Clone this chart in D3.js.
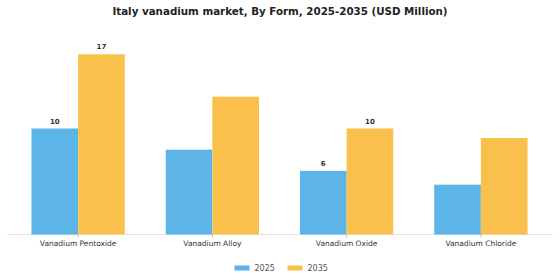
<html>
<head>
<script src="https://d3js.org/d3.v7.min.js"></script>
<style>
  body { margin: 0; background: #fff; }
  text { font-family: "DejaVu Sans", sans-serif; }
</style>
</head>
<body>
<svg width="560" height="280"></svg>
<script>
var categories = ['Vanadium Pentoxide', 'Vanadium Alloy', 'Vanadium Oxide', 'Vanadium Chloride'];
var years = ['2025', '2035'];
var values2025 = [10, 8, 6, 4.7];
var values2035 = [17, 13, 10, 9.1];
// only some bars carry a label in the original
var labels2025 = ['10', '', '6', ''];
var labels2035 = ['17', '', '10', ''];
var colors = ['#5db4e6', '#f9c14b'];

var svg = d3.select('svg');

svg.append('text')
    .attr('x', 280)
    .attr('y', 15)
    .attr('text-anchor', 'middle')
    .style('font-size', '10.3px')
    .style('font-weight', 'bold')
    .style('fill', '#222')
    .text('Italy vanadium market, By Form, 2025-2035 (USD Million)');

var x = d3.scaleBand()
    .domain(categories)
    .range([11, 548])
    .paddingInner(0.305)
    .paddingOuter(0.1525);
var xInner = d3.scaleBand()
    .domain(years)
    .range([0, x.bandwidth()]);
var y = d3.scaleLinear()
    .domain([0, 17])
    .range([234.5, 54.3]);

var rows = categories.map((c, i) => ({
    cat: c,
    vals: [values2025[i], values2035[i]],
    labs: [labels2025[i], labels2035[i]]
}));

// axis baseline
svg.append('line')
    .attr('x1', 7).attr('x2', 553)
    .attr('y1', y(0)).attr('y2', y(0))
    .style('stroke', '#e2e2e2')
    .style('stroke-width', 1);

var groups = svg.selectAll('g.grp')
    .data(rows)
    .enter()
    .append('g')
    .attr('class', 'grp')
    .attr('transform', d => 'translate(' + x(d.cat) + ',0)');

groups.selectAll('rect')
    .data(d => d.vals.map((v, j) => ({ year: years[j], v: v, lab: d.labs[j] })))
    .enter()
    .append('rect')
    .attr('x', d => xInner(d.year))
    .attr('y', d => y(d.v))
    .attr('width', xInner.bandwidth())
    .attr('height', d => y(0) - y(d.v))
    .style('fill', (d, j) => colors[j]);

groups.selectAll('text.val')
    .data(d => d.vals.map((v, j) => ({ year: years[j], v: v, lab: d.labs[j] })))
    .enter()
    .append('text')
    .attr('class', 'val')
    .attr('x', d => xInner(d.year) + xInner.bandwidth() / 2)
    .attr('y', d => y(d.v) - 5)
    .attr('text-anchor', 'middle')
    .style('font-size', '7px')
    .style('font-weight', 'bold')
    .style('fill', '#333')
    .text(d => d.lab);

// x axis labels and ticks
var xAxis = d3.axisBottom(x).tickSize(3).tickPadding(3);
var ax = svg.append('g')
    .attr('transform', 'translate(0,' + y(0) + ')')
    .call(xAxis);
ax.select('.domain').remove();
ax.selectAll('line').style('stroke', '#bbb');
ax.selectAll('text')
    .style('font-family', '"DejaVu Sans", sans-serif')
    .style('font-size', '7.5px')
    .style('fill', '#333');

// legend
var legendX = [234.5, 287.5];
var legend = svg.selectAll('g.leg')
    .data(years)
    .enter()
    .append('g')
    .attr('class', 'leg')
    .attr('transform', (d, i) => 'translate(' + legendX[i] + ',268)');
legend.append('rect')
    .attr('x', 0).attr('y', -2.5)
    .attr('width', 15).attr('height', 5)
    .style('fill', (d, i) => colors[i]);
legend.append('text')
    .attr('x', 20).attr('y', 3)
    .style('font-size', '8px')
    .style('fill', '#555')
    .text(d => d);
</script>
</body>
</html>
